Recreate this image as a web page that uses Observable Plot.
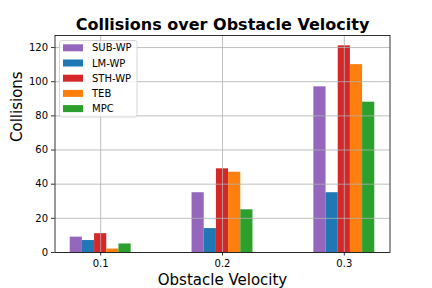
<!DOCTYPE html>
<html><head><meta charset="utf-8">
<script src="https://cdn.jsdelivr.net/npm/d3@7"></script>
<script src="https://cdn.jsdelivr.net/npm/@observablehq/plot@0.6"></script>
<style>body{margin:0;background:#fff}</style>
</head><body><div id="chart"></div>
<script>
const velocities = [0.1, 0.2, 0.3];
const methods = ["SUB-WP", "LM-WP", "STH-WP", "TEB", "MPC"];
const colors = ["#9467bd", "#1f77b4", "#d62728", "#ff7f0e", "#2ca02c"];
const subwp = [9, 35, 97];
const lmwp = [7, 14, 35];
const sthwp = [11, 49, 121];
const teb = [2, 47, 110];
const mpc = [5, 25, 88];
const yTicks = [0, 20, 40, 60, 80, 100, 120];
const barWidth = 0.01;

const series = [subwp, lmwp, sthwp, teb, mpc];
const data = [];
methods.forEach((m, i) => velocities.forEach((v, j) => data.push({method: m, v, idx: i, value: series[i][j]})));

const gridStyle = {stroke: "#b0b0b0", strokeOpacity: 1, strokeWidth: 0.8};
const plot = Plot.plot({
  width: 432, height: 288,
  marginLeft: 54.5, marginRight: 42.5, marginTop: 35, marginBottom: 36,
  style: {fontFamily: "DejaVu Sans", fontSize: "10px", background: "#fff", color: "#000", overflow: "visible"},
  x: {domain: [0.0625, 0.3375]},
  y: {domain: [0, 127.05]},
  color: {domain: methods, range: colors},
  marks: [
    Plot.rectY(data, {
      x1: d => d.v + (d.idx - 2.5) * barWidth,
      x2: d => d.v + (d.idx - 1.5) * barWidth,
      y1: 0, y2: "value", fill: "method"
    }),
    Plot.gridX(velocities, gridStyle),
    Plot.gridY(yTicks, gridStyle),
    Plot.axisX(velocities, {tickFormat: d => d.toFixed(1), tickSize: 3.5, tickPadding: 3.5, label: null, fontSize: 10, stroke: "#000", strokeWidth: 0.8}),
    Plot.axisY(yTicks, {tickSize: 3.5, tickPadding: 3.5, label: null, fontSize: 10, stroke: "#000", strokeWidth: 0.8}),
    Plot.frame({stroke: "#000", strokeWidth: 0.8}),
    Plot.text(["Collisions over Obstacle Velocity"], {frameAnchor: "top", lineAnchor: "bottom", dy: -6, fontSize: 16, fontWeight: "bold", fill: "#000"}),
    Plot.text(["Obstacle Velocity"], {frameAnchor: "bottom", lineAnchor: "bottom", dy: 32, fontSize: 15, fill: "#000"}),
    Plot.text(["Collisions"], {frameAnchor: "left", lineAnchor: "bottom", rotate: -90, dx: -33.5, dy: -2, fontSize: 15, fill: "#000"})
  ]
});
document.getElementById("chart").appendChild(plot);

// legend (upper left, inside axes)
const svg = d3.select(plot);
const lg = svg.append("g").attr("font-family", "DejaVu Sans").attr("font-size", 10).attr("text-anchor", "start");
lg.append("rect").attr("x", 59.5).attr("y", 40.5).attr("width", 77.5).attr("height", 76.5)
  .attr("rx", 2).attr("fill", "#fff").attr("fill-opacity", 0.8).attr("stroke", "#cccccc").attr("stroke-width", 0.8);
methods.forEach((m, i) => {
  const cy = 47.8 + i * 15.2;
  lg.append("rect").attr("x", 63).attr("y", cy - 3.5).attr("width", 20).attr("height", 7).attr("fill", colors[i]);
  lg.append("text").attr("x", 92).attr("y", cy).attr("dy", "0.35em").attr("text-anchor", "start").attr("fill", "#000").text(m);
});
</script>
</body></html>
